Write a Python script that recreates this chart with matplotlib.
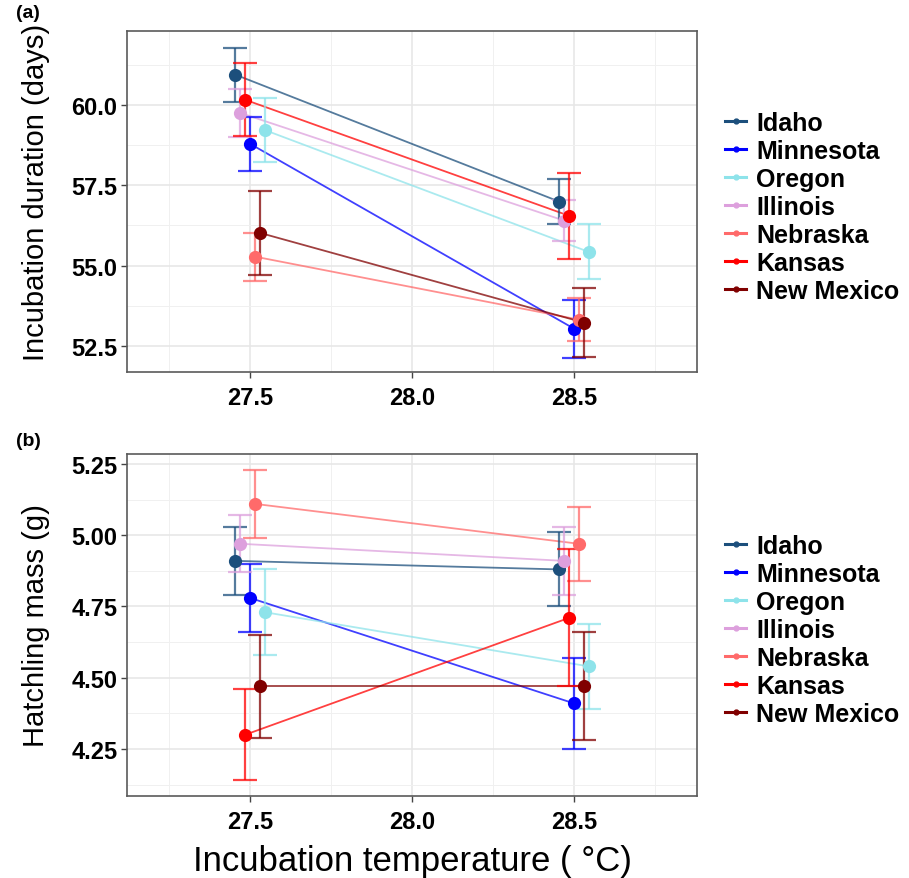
import numpy as np
import matplotlib
matplotlib.use('Agg')
import matplotlib.pyplot as plt
from matplotlib.lines import Line2D
from matplotlib.ticker import MultipleLocator

plt.rcParams['font.family'] = ['Liberation Sans', 'DejaVu Sans']

# Data
states = ['Idaho', 'Minnesota', 'Oregon', 'Illinois', 'Nebraska', 'Kansas', 'New Mexico']
colors = ['#1c4f7c', '#0000ff', '#8ee3ea', '#dda0dd', '#ff6a6a', '#ff0000', '#800000']
temps = [27.5, 28.5]

# (a) incubation duration, days
duration_275 = [60.94, 58.79, 59.22, 59.75, 55.28, 60.16, 56.02]
duration_285 = [56.99, 53.04, 55.43, 56.40, 53.32, 56.55, 53.23]
duration_err_275 = [0.84, 0.84, 1.00, 0.76, 0.75, 1.13, 1.30]
duration_err_285 = [0.70, 0.90, 0.85, 0.64, 0.67, 1.33, 1.08]

# (b) hatchling mass, g
mass_275 = [4.91, 4.78, 4.73, 4.97, 5.11, 4.30, 4.47]
mass_285 = [4.88, 4.41, 4.54, 4.91, 4.97, 4.71, 4.47]
mass_err_275 = [0.12, 0.12, 0.15, 0.10, 0.12, 0.16, 0.18]
mass_err_285 = [0.13, 0.16, 0.15, 0.12, 0.13, 0.24, 0.19]

W, H = 909, 879
fig = plt.figure(figsize=(W / 100, H / 100), dpi=100)

# position_dodge: groups are shifted in alphabetical order
order = sorted(states)
dodge = 0.015


def panel(rect, y275, y285, e275, e285, ylim, yticks, ylabel):
    ax = fig.add_axes(rect)
    x = np.array(temps)
    for i, s in enumerate(states):
        xs = x + (order.index(s) - 3) * dodge
        ax.plot(xs, [y275[i], y285[i]], color=colors[i], lw=1.3, alpha=0.75, zorder=2)
    for i, s in enumerate(states):
        xs = x + (order.index(s) - 3) * dodge
        ax.errorbar(xs, [y275[i], y285[i]], yerr=[e275[i], e285[i]], fmt='none',
                    ecolor=colors[i], elinewidth=1.6, capsize=8.4, capthick=1.6,
                    alpha=0.75, zorder=3)
    for i, s in enumerate(states):
        xs = x + (order.index(s) - 3) * dodge
        ax.plot(xs, [y275[i], y285[i]], 'o', color=colors[i], ms=9.5, mec='none', zorder=4)

    ax.set_xlim(27.12, 28.88)
    ax.set_ylim(*ylim)
    ax.set_xticks([27.5, 28.0, 28.5])
    ax.xaxis.set_minor_locator(MultipleLocator(0.25))
    ax.set_yticks(yticks)
    ax.yaxis.set_minor_locator(MultipleLocator((yticks[1] - yticks[0]) / 2))
    ax.grid(which='major', color='#e6e6e6', lw=1.1, zorder=0)
    ax.grid(which='minor', color='#f0f0f0', lw=0.7, zorder=0)
    ax.set_axisbelow(True)
    for sp in ax.spines.values():
        sp.set_color('#5a5a5a')
        sp.set_linewidth(1.2)
    ax.tick_params(which='major', length=4, width=1, color='#444444', labelsize=17, pad=3)
    ax.tick_params(axis='x', pad=6)
    ax.tick_params(which='minor', length=0)
    ax.set_yticklabels([f'{v:.1f}' if ylim[1] > 10 else f'{v:.2f}' for v in yticks])
    for lab in ax.get_yticklabels():
        lab.set_fontweight('bold')
    ax.set_ylabel(ylabel, fontsize=21)
    return ax


ax1 = panel([127 / W, 1 - 373 / H, 570 / W, 341 / H],
            duration_275, duration_285, duration_err_275, duration_err_285,
            (51.69, 62.30), [52.5, 55.0, 57.5, 60.0], 'Incubation duration (days)')
ax1.set_xticklabels(['27.5', '28.0', '28.5'], fontweight='bold')
ax1.yaxis.set_label_coords(-0.135, 0.53)

ax2 = panel([127 / W, 1 - 797 / H, 570 / W, 342 / H],
            mass_275, mass_285, mass_err_275, mass_err_285,
            (4.085, 5.285), [4.25, 4.50, 4.75, 5.00, 5.25], 'Hatchling mass (g)')
ax2.set_xticklabels(['27.5', '28.0', '28.5'], fontweight='bold')
ax2.yaxis.set_label_coords(-0.135, 0.5)
ax2.set_xlabel('Incubation temperature ( °C)', fontsize=25, labelpad=8)

# legends on the right of each panel
handles = [Line2D([], [], color=c, lw=2.2, marker='o', ms=3.5) for c in colors]
for ax, yc in [(ax1, 1 - 208 / H), (ax2, 1 - 631 / H)]:
    leg = ax.legend(handles, states, loc='center left', bbox_to_anchor=(725 / W, yc),
                    bbox_transform=fig.transFigure, frameon=False, handlelength=0.85,
                    handletextpad=0.4, labelspacing=0.16, borderpad=0, borderaxespad=0,
                    prop={'size': 18, 'weight': 'bold'})

fig.text(16 / W, 1 - 14 / H, '(a)', fontsize=14, fontweight='bold', va='center')
fig.text(16 / W, 1 - 442 / H, '(b)', fontsize=14, fontweight='bold', va='center')

fig.savefig('out.png', dpi=100)
